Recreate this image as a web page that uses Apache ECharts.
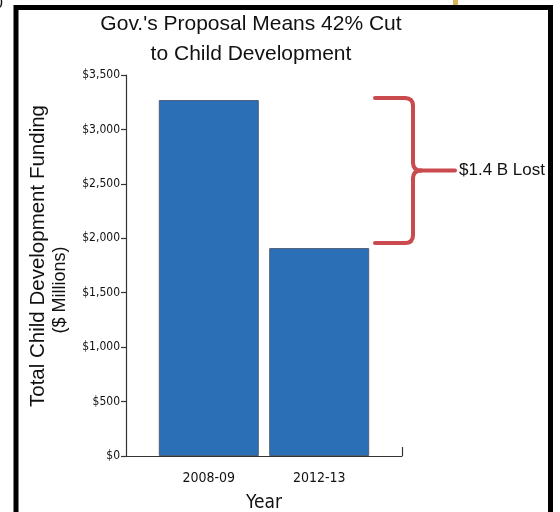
<!DOCTYPE html>
<html>
<head>
<meta charset="utf-8">
<script src="https://cdn.jsdelivr.net/npm/echarts@6/dist/echarts.min.js"></script>
<style>
html, body { margin: 0; padding: 0; background: #fff; }
#main { width: 560px; height: 512px; }
</style>
</head>
<body>
<div id="main"></div>
<script>
// data
var categories = ['2008-09', '2012-13'];
var funding = [3270, 1910];
var yTicks = [0, 500, 1000, 1500, 2000, 2500, 3000, 3500];
var lostLabel = '$1.4 B Lost';

var narrow = "'Liberation Sans Narrow', 'DejaVu Sans Condensed', sans-serif";
var sans = "'Liberation Sans', Arial, sans-serif";

var chart = echarts.init(document.getElementById('main'));

var barData = categories.map(function (c, i) { return [i, funding[i]]; });

var option = {
    backgroundColor: '#fff',
    animation: false,
    title: {
        text: "Gov.'s Proposal Means 42% Cut\nto Child Development",
        left: 246,
        textAlign: 'center',
        top: 4,
        textStyle: {
            fontFamily: sans,
            fontSize: 21,
            fontWeight: 'normal',
            color: '#111',
            lineHeight: 30
        }
    },
    grid: { left: 126, right: 158, top: 75, bottom: 56, outerBoundsMode: 'none' },
    xAxis: {
        type: 'value',
        min: -0.75,
        max: 1.75,
        name: 'Year',
        nameLocation: 'middle',
        nameGap: 38,
        nameTextStyle: { fontFamily: narrow, fontSize: 19, color: '#111' },
        axisLine: { show: true, onZero: false, lineStyle: { color: '#333', width: 1.2 } },
        axisTick: { show: true, customValues: [1.75], inside: true, length: 9, lineStyle: { color: '#333', width: 1.2 } },
        axisLabel: {
            customValues: [0, 1],
            margin: 15,
            fontFamily: narrow,
            fontSize: 14,
            color: '#111',
            formatter: function (v) { return categories[Math.round(v)]; }
        },
        splitLine: { show: false }
    },
    yAxis: {
        type: 'value',
        min: yTicks[0],
        max: yTicks[yTicks.length - 1],
        interval: yTicks[1] - yTicks[0],
        axisLine: { show: true, onZero: false, lineStyle: { color: '#333', width: 1.2 } },
        axisTick: { show: true, length: 5, lineStyle: { color: '#333', width: 1.2 } },
        axisLabel: {
            margin: 6,
            fontFamily: narrow,
            fontSize: 12,
            color: '#111',
            formatter: function (v) { return '$' + v.toLocaleString('en-US'); }
        },
        splitLine: { show: false }
    },
    series: [{
        type: 'bar',
        data: barData,
        barWidth: 100,
        itemStyle: { color: '#2b6fb7', borderColor: '#4d6079', borderWidth: 1 }
    }]
};
chart.setOption(option);

// brace from the top of bar 1 to the top of bar 2
var yTop = chart.convertToPixel({ yAxisIndex: 0 }, funding[0]) - 2;
var yBot = chart.convertToPixel({ yAxisIndex: 0 }, funding[1]) - 5;
var yMid = (yTop + yBot) / 2;
var bx0 = 375, bx1 = 413, bx2 = 455, r = 8;
var braceStyle = { stroke: '#c94a4f', lineWidth: 4, lineCap: 'round', fill: 'none' };

function seg(x1, y1, x2, y2) {
    return { type: 'line', silent: true, shape: { x1: x1, y1: y1, x2: x2, y2: y2 }, style: braceStyle };
}
function curve(x1, y1, cx, cy, x2, y2) {
    return { type: 'bezierCurve', silent: true, shape: { x1: x1, y1: y1, cpx1: cx, cpy1: cy, x2: x2, y2: y2 }, style: braceStyle };
}

var brace = [
    seg(bx0, yTop, bx1 - r, yTop),
    curve(bx1 - r, yTop, bx1, yTop, bx1, yTop + r),
    seg(bx1, yTop + r, bx1, yMid - r),
    curve(bx1, yMid - r, bx1, yMid, bx1 + r, yMid),
    seg(bx1 + r, yMid, bx2, yMid),
    curve(bx1 + r, yMid, bx1, yMid, bx1, yMid + r),
    seg(bx1, yMid + r, bx1, yBot - r),
    curve(bx1, yBot - r, bx1, yBot, bx1 - r, yBot),
    seg(bx1 - r, yBot, bx0, yBot)
];

chart.setOption({
    graphic: [
        {
            type: 'rect', silent: true, z: 0,
            shape: { x: 16, y: 7.5, width: 534.5, height: 520 },
            style: { fill: 'none', stroke: '#000', lineWidth: 5 }
        },
        {
            type: 'rect', silent: true,
            shape: { x: 453, y: 0, width: 5, height: 5 },
            style: { fill: '#d8b45a' }
        },
        {
            type: 'text', silent: true, x: -6, y: -4,
            style: { text: '0', font: '16px ' + sans, fill: '#111' }
        },
        {
            type: 'text', silent: true, x: 38, y: 256, rotation: Math.PI / 2,
            style: { text: 'Total Child Development Funding', font: '20.5px ' + sans, fill: '#111', align: 'center', verticalAlign: 'middle' }
        },
        {
            type: 'text', silent: true, x: 60, y: 290, rotation: Math.PI / 2,
            style: { text: '($ Millions)', font: '18px ' + sans, fill: '#111', align: 'center', verticalAlign: 'middle' }
        },
        { type: 'group', children: brace },
        {
            type: 'text', silent: true, x: 459, y: yMid,
            style: { text: lostLabel, font: '17px ' + sans, fill: '#111', verticalAlign: 'middle' }
        }
    ]
});
</script>
</body>
</html>
